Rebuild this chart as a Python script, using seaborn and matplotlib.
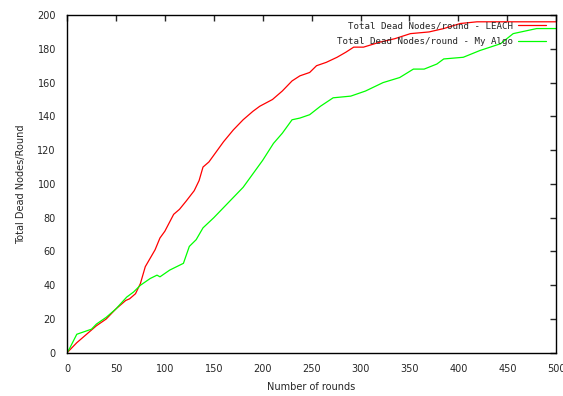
import pandas as pd
import matplotlib
matplotlib.use("Agg")
import matplotlib.pyplot as plt
import seaborn as sns

# values
leach_rounds = [0, 5, 10, 20, 24, 30, 40, 50, 60, 64, 70, 75, 80, 90, 95, 100, 109, 115, 122, 130, 135, 139,
                145, 150, 160, 170, 180, 190, 197, 210, 220, 230, 238, 248, 255, 265, 276, 285, 293, 303,
                320, 335, 351, 370, 385, 402, 419, 450, 500]
leach_dead = [0, 3, 6, 11, 13, 16, 20, 26, 31, 32, 35, 41, 51, 61, 68, 72, 82, 85, 90, 96, 102, 110,
              113, 117, 125, 132, 138, 143, 146, 150, 155, 161, 164, 166, 170, 172, 175, 178, 181, 181,
              184, 186, 189, 190, 192, 195, 196, 196, 196]

algo_rounds = [0, 3, 10, 20, 25, 30, 40, 50, 61, 68, 75, 85, 92, 95, 105, 119, 125, 132, 139, 150, 160,
               170, 180, 190, 200, 211, 220, 230, 238, 248, 259, 272, 290, 305, 323, 340, 354, 365, 378,
               385, 405, 422, 443, 456, 480, 500]
algo_dead = [0, 3, 11, 13, 14, 17, 21, 26, 33, 36, 40, 44, 46, 45, 49, 53, 63, 67, 74, 80, 86,
             92, 98, 106, 114, 124, 130, 138, 139, 141, 146, 151, 152, 155, 160, 163, 168, 168, 171,
             174, 175, 179, 183, 189, 192, 192]

series_names = ["Total Dead Nodes/round - LEACH", "Total Dead Nodes/round - My Algo"]
series_colors = ["#ff0000", "#00ff00"]

df = pd.concat([
    pd.DataFrame({"rounds": leach_rounds, "dead": leach_dead, "series": series_names[0]}),
    pd.DataFrame({"rounds": algo_rounds, "dead": algo_dead, "series": series_names[1]}),
])

sns.set_style("white")
plt.rcParams["font.family"] = ["DejaVu Sans"]

fig = plt.figure(figsize=(5.63, 3.96), dpi=100)
ax = fig.add_axes([0.119, 0.109, 0.869, 0.853])

sns.lineplot(data=df, x="rounds", y="dead", hue="series", palette=series_colors,
             linewidth=0.9, ax=ax, estimator=None, sort=False)

ax.set_xlim(0, 500)
ax.set_ylim(0, 200)
ax.set_xticks(range(0, 501, 50))
ax.set_yticks(range(0, 201, 20))
ax.tick_params(direction="in", length=4, width=1, top=True, right=True, labelsize=7, pad=8)
for s in ax.spines.values():
    s.set_color("black")
    s.set_linewidth(1)

ax.set_xlabel("Number of rounds", fontsize=7, labelpad=6)
ax.set_ylabel("Total Dead Nodes/Round", fontsize=7, labelpad=8)

# gnuplot-style key: text right-aligned, line sample after it
leg = ax.legend(loc="upper right", bbox_to_anchor=(0.982, 0.986), frameon=False, markerfirst=False,
                prop={"family": "DejaVu Sans Mono", "size": 6.6}, handlelength=3.0,
                handletextpad=0.6, borderaxespad=0, borderpad=0.2, labelspacing=0.75)

fig.savefig("out.png", dpi=100)
